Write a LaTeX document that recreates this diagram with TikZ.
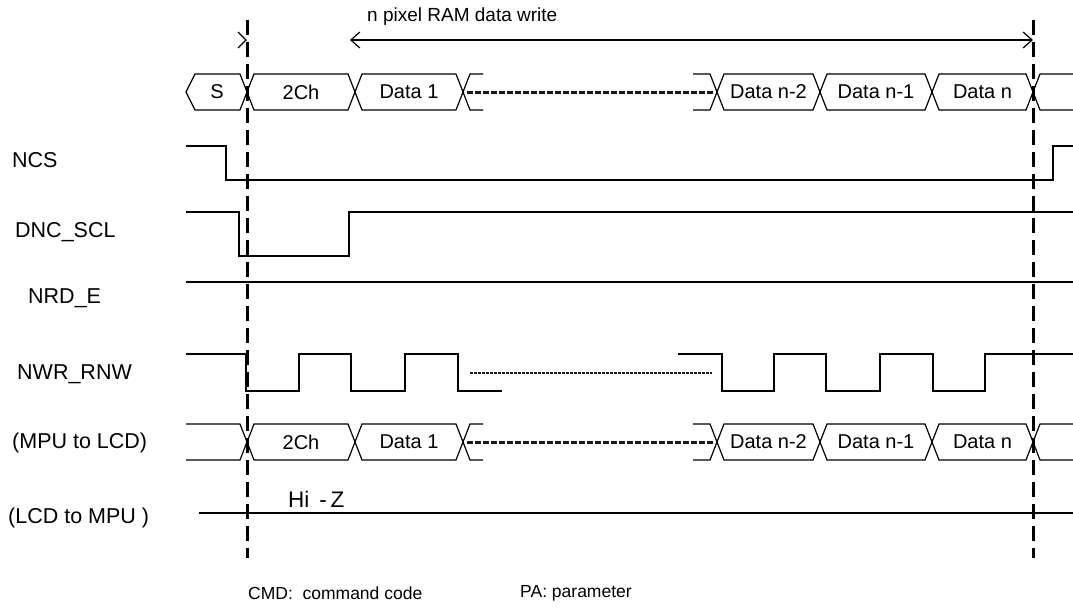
\documentclass[tikz,border=0pt]{standalone}
\usepackage{fontspec}
\setmainfont{Liberation Sans}
\usetikzlibrary{arrows.meta}
\begin{document}
\begin{tikzpicture}[x=1pt,y=-1pt,
  sig/.style={line width=1.5pt, line join=miter},
  bus/.style={line width=1.2pt, line join=miter},
  guide/.style={line width=3pt, dash pattern=on 15pt off 7pt},
  dots/.style={line width=3pt, dash pattern=on 6pt off 2pt, draw=black!90},
  ndots/.style={line width=2.2pt, dash pattern=on 3pt off 1pt, draw=black!90},
  lbl/.style={font=\fontsize{21.5}{24}\selectfont, anchor=west, inner sep=0pt},
  btxt/.style={font=\fontsize{20}{24}\selectfont, inner sep=0pt},
  stxt/.style={font=\fontsize{17.5}{20}\selectfont, anchor=west, inner sep=0pt},
  barb/.tip={Straight Barb[length=9pt,width=16pt]}]
\useasboundingbox (0,0) rectangle (1073,610);

% signal labels
\node[lbl] (lNCS) at (12,160) {NCS};
\node[lbl] (lDNC) at (15,232) {DNC\_SCL};
\node[lbl] (lNRD) at (28,298) {NRD\_E};
\node[lbl] (lNWR) at (17,374) {NWR\_RNW};
\node[lbl] (lMPU) at (12,443) {(MPU to LCD)};
\node[lbl] (lLCD) at (8,518) {(LCD to MPU )};

% top annotation
\node[stxt, font=\fontsize{19}{22}\selectfont] (ttl) at (367,17) {n pixel RAM data write};
\coordinate (aL) at (350,40);
\coordinate (aR) at (1033,40);
\draw[line width=1.2pt, barb-barb] (aL) -- (aR);
\draw[line width=1.2pt] (238,32) -- (246,40) -- (238,48);

% bus rows (top: command/data, bottom: MPU to LCD)
\foreach \dy/\r in {0/t, 350/m} {
  \begin{scope}[shift={(0,\dy)}]
    \foreach \a/\b/\t/\n in {247/355/2Ch/1, 355/463/Data 1/2, 717/820/Data n-2/3, 820/932/Data n-1/4, 932/1033/Data n/5} {
      \draw[bus] (\a,92) -- (\a+7,74) -- (\b-7,74) -- (\b,92) -- (\b-7,110) -- (\a+7,110) -- cycle;
      \node[btxt] (\r box\n) at ({(\a+\b)/2},92) {\t};
    }
    \draw[bus] (483,74) -- (470,74) -- (463,92) -- (470,110) -- (483,110);
    \draw[bus] (693,74) -- (710,74) -- (717,92) -- (710,110) -- (693,110);
    \draw[bus] (1073,74) -- (1040,74) -- (1033,92) -- (1040,110) -- (1073,110);
    \draw[dots] (467,92) -- (714,92);
  \end{scope}
}
% S box on top row
\draw[bus] (186,92) -- (195,74) -- (240,74) -- (247,92) -- (240,110) -- (195,110) -- cycle;
\node[btxt] (tboxS) at (217,92) {S};
% open start of bottom bus
\draw[bus] (186,424) -- (240,424) -- (247,442) -- (240,460) -- (186,460);

% NCS
\draw[sig] (186,146) -- (226,146) -- (226,180) -- (1053,180) -- (1053,146) -- (1073,146);
% DNC_SCL
\draw[sig] (186,212) -- (239,212) -- (239,256) -- (349,256) -- (349,212) -- (1073,212);
% NRD_E
\draw[sig] (186,282) -- (1073,282);
% NWR_RNW
\draw[sig] (186,354) -- (246,354) -- (246,391) -- (299,391) -- (299,354) -- (351,354) -- (351,391)
  -- (405,391) -- (405,354) -- (458,354) -- (458,391) -- (502,391);
\draw[sig] (678,354) -- (722,354) -- (722,391) -- (774,391) -- (774,354) -- (826,354) -- (826,391)
  -- (880,391) -- (880,354) -- (933,354) -- (933,391) -- (985,391) -- (985,354) -- (1073,354);
\draw[ndots] (470,373) -- (712,373);
% LCD to MPU
\draw[line width=1.8pt] (199,513) -- (1073,513);
\node[lbl, font=\fontsize{22.5}{26}\selectfont] (hiz) at (288,499) {Hi\ \,-\,Z};

% guide lines
\draw[guide] (247,20) -- (247,558);
\draw[guide] (1033,20) -- (1033,558);

% legend
\node[stxt] (cmd) at (248,593) {CMD:\ \ command code};
\node[stxt] (pa) at (520,593) {PA: parameter};
\end{tikzpicture}
\end{document}
